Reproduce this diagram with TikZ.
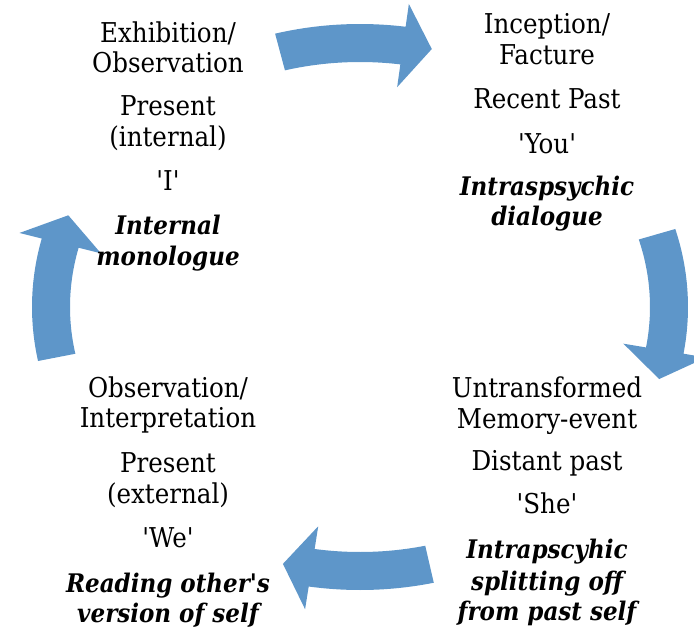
\documentclass[tikz,border=0pt]{standalone}
\usepackage{fontspec}
\newfontfamily\labelfont{DejaVu Serif Condensed}
\definecolor{arrowblue}{RGB}{94,150,201}

% Curved block arrow on the ellipse centred at (360,307), semi-axes 309 x 264.
% #1 = angle of the tail, #2 = angle of the head base (clockwise travel).
\newcommand\cycarrow[2]{%
  \pgfmathsetmacro\nrm{veclen(3.09*sin(#2),2.64*cos(#2))}%
  \pgfmathsetmacro\tipx{360+309*cos(#2)+29*3.09*sin(#2)/\nrm}%
  \pgfmathsetmacro\tipy{307-264*sin(#2)+29*2.64*cos(#2)/\nrm}%
  \fill[cyclearrow]
    plot[domain=#1:#2,samples=40] ({360+328*cos(\x)},{307-283*sin(\x)})
    -- ({360+351*cos(#2)},{307-306*sin(#2)})
    -- (\tipx,\tipy)
    -- ({360+267*cos(#2)},{307-222*sin(#2)})
    -- plot[domain=#2:#1,samples=40] ({360+290*cos(\x)},{307-245*sin(\x)})
    -- cycle;
}

\begin{document}
\begin{tikzpicture}[x=1pt,y=-1pt,
  cyclearrow/.style={fill=arrowblue},
  txt/.style={anchor=base,inner sep=0pt,font=\labelfont\fontsize{27.3}{30}\selectfont},
  emph/.style={txt,font=\labelfont\fontsize{25.6}{30}\selectfont\bfseries\itshape}]
\useasboundingbox (0,0) rectangle (694,632);

% the four arrows of the cycle
\cycarrow{105}{82}
\cycarrow{16}{-9.5}
\cycarrow{283}{261}
\cycarrow{191}{166}

% upper left stage
\node[txt]  (tl1) at (168,42)  {Exhibition/};
\node[txt]  (tl2) at (168,72)  {Observation};
\node[txt]  (tl3) at (168,115) {Present};
\node[txt]  (tl4) at (168,146) {(internal)};
\node[txt]  (tl5) at (168,190) {'I'};
\node[emph] (tl6) at (168,234) {Internal};
\node[emph] (tl7) at (168,265) {monologue};

% upper right stage
\node[txt]  (tr1) at (547,33)  {Inception/};
\node[txt]  (tr2) at (547,64)  {Facture};
\node[txt]  (tr3) at (547,108) {Recent Past};
\node[txt]  (tr4) at (547,153) {'You'};
\node[emph] (tr5) at (547,195) {Intraspsychic};
\node[emph] (tr6) at (547,225) {dialogue};

% lower right stage
\node[txt]  (br1) at (547,397) {Untransformed};
\node[txt]  (br2) at (547,428) {Memory-event};
\node[txt]  (br3) at (547,470) {Distant past};
\node[txt]  (br4) at (547,513) {'She'};
\node[emph] (br5) at (547,558) {Intrapscyhic};
\node[emph] (br6) at (547,590) {splitting off};
\node[emph] (br7) at (547,620) {from past self};

% lower left stage
\node[txt]  (bl1) at (168,397) {Observation/};
\node[txt]  (bl2) at (168,427) {Interpretation};
\node[txt]  (bl3) at (168,472) {Present};
\node[txt]  (bl4) at (168,503) {(external)};
\node[txt]  (bl5) at (168,547) {'We'};
\node[emph] (bl6) at (168,592) {Reading other's};
\node[emph] (bl7) at (168,622) {version of self};
\end{tikzpicture}
\end{document}
